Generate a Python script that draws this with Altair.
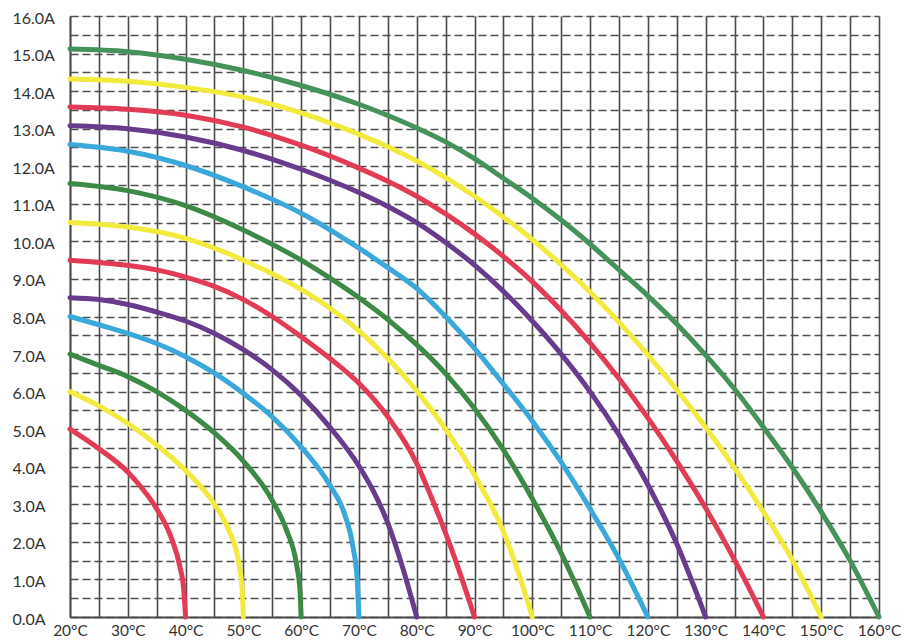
import altair as alt
import pandas as pd

# ---- curve data (temperature °C, current A) ----
T_S1 = [20, 25, 30, 32.5, 35, 37.5, 39, 39.7, 40]
I_S1 = [5.0, 4.48, 3.86, 3.42, 2.88, 2.12, 1.35, 0.7, 0.0]

T_S2 = [20, 25, 30, 35, 40, 45, 47.5, 49.2, 49.8, 50]
I_S2 = [6.0, 5.62, 5.15, 4.58, 3.9, 3.0, 2.3, 1.45, 0.7, 0.0]

T_S3 = [20, 25, 30, 35, 40, 45, 50, 55, 57.5, 59.2, 59.8, 60]
I_S3 = [7.0, 6.7, 6.4, 6.0, 5.5, 4.9, 4.15, 3.1, 2.3, 1.4, 0.7, 0.0]

T_S4 = [20, 25, 30, 35, 40, 45, 50, 55, 60, 65, 67.5, 69, 69.7, 70]
I_S4 = [8.0, 7.78, 7.55, 7.28, 6.93, 6.49, 5.95, 5.33, 4.53, 3.5, 2.75, 1.85, 1.0, 0.0]

T_S5 = [20, 25, 30, 35, 40, 45, 50, 55, 60, 65, 70, 72.5, 75, 77.5, 80]
I_S5 = [8.5, 8.45, 8.32, 8.12, 7.88, 7.55, 7.12, 6.58, 5.9, 5.05, 4.02, 3.35, 2.5, 1.35, 0.0]

T_S6 = [20, 30, 35, 40, 45, 50, 55, 60, 65, 70, 75, 80, 82.5, 85, 87.5, 90]
I_S6 = [9.5, 9.36, 9.24, 9.05, 8.8, 8.45, 8.0, 7.46, 6.88, 6.22, 5.33, 4.09, 3.2, 2.23, 1.16, 0.0]

T_S7 = [20, 30, 40, 50, 60, 65, 70, 75, 80, 85, 90, 95, 97.5, 100]
I_S7 = [10.5, 10.38, 10.08, 9.5, 8.72, 8.22, 7.62, 6.88, 6.02, 5.0, 3.78, 2.28, 1.22, 0.0]

T_S8 = [20, 30, 40, 50, 60, 65, 70, 75, 80, 85, 90, 95, 100, 105, 110]
I_S8 = [11.54, 11.35, 10.95, 10.3, 9.5, 9.02, 8.5, 7.92, 7.25, 6.48, 5.55, 4.45, 3.15, 1.7, 0.0]

T_S9 = [20, 30, 40, 50, 60, 70, 75, 80, 85, 90, 95, 100, 105, 110, 115, 120]
I_S9 = [12.58, 12.4, 12.02, 11.45, 10.75, 9.82, 9.3, 8.75, 8.0, 7.15, 6.2, 5.22, 4.12, 2.88, 1.55, 0.0]

T_S10 = [20, 30, 40, 50, 60, 70, 75, 80, 85, 90, 95, 100, 105, 110, 115, 120, 125, 130]
I_S10 = [13.08, 13.0, 12.78, 12.42, 11.92, 11.3, 10.93, 10.5, 9.97, 9.37, 8.67, 7.88, 7.0, 6.0, 4.85, 3.52, 1.95, 0.0]

T_S11 = [20, 30, 40, 50, 60, 70, 75, 80, 85, 90, 95, 100, 105, 110, 115, 120, 125, 130, 135, 140]
I_S11 = [13.58, 13.52, 13.36, 13.04, 12.56, 11.95, 11.6, 11.2, 10.73, 10.2, 9.6, 8.93, 8.16, 7.3, 6.35, 5.3, 4.15, 2.9, 1.52, 0.0]

T_S12 = [20, 30, 40, 50, 60, 70, 75, 80, 85, 90, 95, 100, 105, 110, 115, 120, 125, 130, 135, 140, 145, 150]
I_S12 = [14.32, 14.26, 14.1, 13.84, 13.42, 12.85, 12.52, 12.14, 11.7, 11.2, 10.65, 10.05, 9.38, 8.65, 7.85, 6.98, 6.05, 5.05, 3.97, 2.8, 1.52, 0.0]

T_S13 = [20, 30, 40, 50, 60, 70, 75, 80, 85, 90, 95, 100, 105, 110, 115, 120, 125, 130, 135, 140, 145, 150, 155, 160]
I_S13 = [15.12, 15.05, 14.85, 14.55, 14.15, 13.65, 13.35, 13.02, 12.65, 12.2, 11.68, 11.15, 10.57, 9.93, 9.24, 8.55, 7.8, 6.97, 6.07, 5.05, 3.98, 2.8, 1.5, 0.0]

SERIES = ["s01", "s02", "s03", "s04", "s05", "s06", "s07", "s08", "s09", "s10", "s11", "s12", "s13"]
COLORS = ["#e13b55", "#f2ea3c", "#3c8a45", "#3aa8da", "#683b8d",
          "#e13b55", "#f2ea3c", "#3c8a45", "#3aa8da", "#683b8d",
          "#e13b55", "#f2ea3c", "#45925a"]

X_TICKS = list(range(20, 161, 5))
Y_TICKS = [v / 2 for v in range(0, 33)]

curves = [(T_S1, I_S1), (T_S2, I_S2), (T_S3, I_S3), (T_S4, I_S4), (T_S5, I_S5),
          (T_S6, I_S6), (T_S7, I_S7), (T_S8, I_S8), (T_S9, I_S9), (T_S10, I_S10),
          (T_S11, I_S11), (T_S12, I_S12), (T_S13, I_S13)]

rows = []
for name, (ts, cs) in zip(SERIES, curves):
    for t, c in zip(ts, cs):
        rows.append({"series": name, "temp": t, "current": c})
df = pd.DataFrame(rows)

FONT = "Lato"

chart = alt.Chart(df).mark_line(
    strokeWidth=5, interpolate="monotone", strokeCap="round", strokeJoin="round"
).encode(
    x=alt.X("temp:Q",
            scale=alt.Scale(domain=[20, 160], nice=False, zero=False),
            axis=alt.Axis(values=X_TICKS, title=None, grid=True, ticks=False,
                          gridColor="#4a4a4a", gridWidth=1.6, gridOpacity=1,
                          domainColor="#4a4a4a", domainWidth=1.8,
                          labelExpr="datum.value % 10 == 0 ? datum.value + '°C' : ''",
                          labelFont=FONT, labelFontSize=15.5, labelColor="#333333",
                          labelPadding=6, labelFlush=False, labelOverlap=False)),
    y=alt.Y("current:Q",
            scale=alt.Scale(domain=[0, 16], nice=False),
            axis=alt.Axis(values=Y_TICKS, title=None, grid=True, ticks=False,
                          gridColor="#4f4f4f", gridWidth=1.6, gridDash=[8, 4], gridOpacity=1,
                          domainColor="#4a4a4a", domainWidth=1.8,
                          labelExpr="datum.value % 1 == 0 ? format(datum.value, '.1f') + 'A' : ''",
                          labelFont=FONT, labelFontSize=16, labelColor="#333333",
                          labelAlign="left", labelPadding=58, labelOffset=2,
                          labelFlush=False, labelOverlap=False)),
    color=alt.Color("series:N", scale=alt.Scale(domain=SERIES, range=COLORS), legend=None),
    detail="series:N",
    order=alt.Order("temp:Q"),
).properties(
    width=809, height=601,
    padding={"left": 62, "top": 8, "right": 24, "bottom": 24},
    autosize=alt.AutoSizeParams(type="none"),
).configure_view(
    stroke="#6a6a6a", strokeWidth=1.6
).configure(background="white")

chart.save("out.html", embed_options={"renderer": "svg", "actions": False})
